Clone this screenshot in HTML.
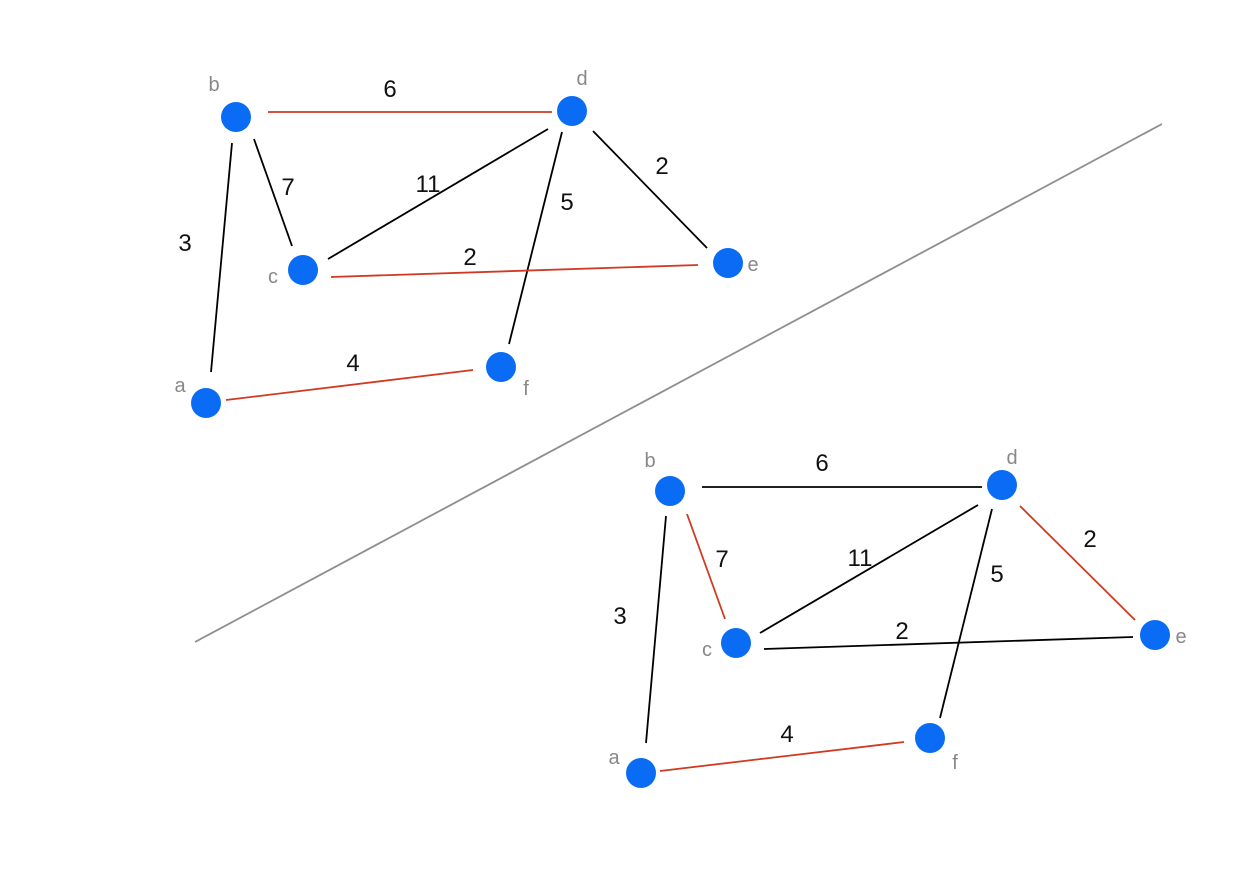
<!DOCTYPE html>
<html><head><meta charset="utf-8"><style>
html,body{margin:0;padding:0;background:#fff;width:1241px;height:875px;overflow:hidden}
svg text{font-family:"Liberation Sans",sans-serif}
.w{font-size:24px;fill:#111;text-anchor:middle}
.n{font-size:20px;fill:#888;text-anchor:middle}
</style></head><body>
<svg width="1241" height="875" viewBox="0 0 1241 875" xmlns="http://www.w3.org/2000/svg">
<g stroke-width="1.8" fill="none">
<line x1="195" y1="642" x2="1162" y2="124" stroke="#8e8e8e"/>
<!-- top graph -->
<line x1="268" y1="112" x2="552" y2="112" stroke="#d03a22"/>
<line x1="254" y1="139" x2="292" y2="246" stroke="#000"/>
<line x1="232" y1="143" x2="211" y2="372" stroke="#000"/>
<line x1="328" y1="259" x2="548" y2="129" stroke="#000"/>
<line x1="562" y1="132" x2="509" y2="344" stroke="#000"/>
<line x1="593" y1="131" x2="707" y2="248" stroke="#000"/>
<line x1="331" y1="277" x2="698" y2="265" stroke="#d03a22"/>
<line x1="226" y1="400" x2="473" y2="370" stroke="#d03a22"/>
<!-- bottom graph -->
<line x1="702" y1="487" x2="982" y2="487" stroke="#000"/>
<line x1="687" y1="514" x2="725" y2="619" stroke="#d03a22"/>
<line x1="666" y1="516" x2="646" y2="743" stroke="#000"/>
<line x1="760" y1="633" x2="978" y2="505" stroke="#000"/>
<line x1="992" y1="509" x2="940" y2="718" stroke="#000"/>
<line x1="1020" y1="506" x2="1135" y2="620" stroke="#d03a22"/>
<line x1="764" y1="649" x2="1133" y2="637" stroke="#000"/>
<line x1="660" y1="771" x2="904" y2="742" stroke="#d03a22"/>
</g>
<g fill="#0a6cf5">
<circle cx="236" cy="117" r="15"/><circle cx="572" cy="111" r="15"/><circle cx="303" cy="270" r="15"/>
<circle cx="728" cy="263" r="15"/><circle cx="206" cy="403" r="15"/><circle cx="501" cy="367" r="15"/>
<circle cx="670" cy="491" r="15"/><circle cx="1002" cy="485" r="15"/><circle cx="736" cy="643" r="15"/>
<circle cx="1155" cy="635" r="15"/><circle cx="641" cy="773" r="15"/><circle cx="930" cy="738" r="15"/>
</g>
<g class="w">
<text x="390" y="97">6</text><text x="288" y="195">7</text><text x="428" y="192">11</text>
<text x="567" y="210">5</text><text x="662" y="174">2</text><text x="185" y="251">3</text>
<text x="470" y="265">2</text><text x="353" y="371">4</text>
<text x="822" y="471">6</text><text x="722" y="567">7</text><text x="860" y="566">11</text>
<text x="997" y="582">5</text><text x="1090" y="547">2</text><text x="620" y="624">3</text>
<text x="902" y="639">2</text><text x="787" y="742">4</text>
</g>
<g class="n">
<text x="214" y="91">b</text><text x="582" y="85">d</text><text x="273" y="283">c</text>
<text x="753" y="271">e</text><text x="180" y="392">a</text><text x="526" y="395">f</text>
<text x="650" y="467">b</text><text x="1012" y="464">d</text><text x="707" y="656">c</text>
<text x="1181" y="643">e</text><text x="614" y="764">a</text><text x="955" y="769">f</text>
</g>
</svg>
</body></html>
